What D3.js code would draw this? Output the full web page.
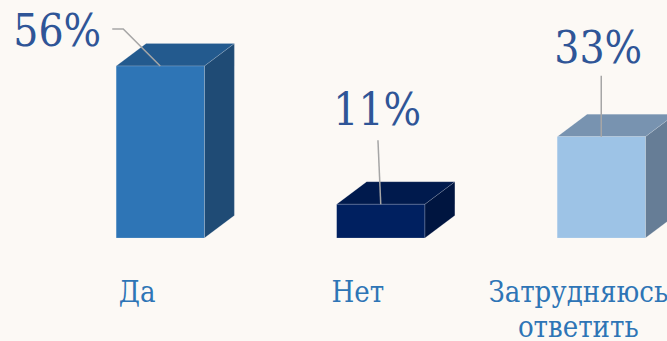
<!DOCTYPE html>
<html>
<head>
<meta charset="utf-8">
<script src="https://cdn.jsdelivr.net/npm/d3@7"></script>
<style>
  html, body { margin: 0; padding: 0; background: #fcf9f5; }
  svg { display: block; }
  text { font-family: "DejaVu Serif Condensed", "DejaVu Serif", serif; font-stretch: condensed; }
</style>
</head>
<body>
<svg id="chart" width="667" height="341"></svg>
<script>
// Survey answers and their shares, in percent
const categories = ["Да", "Нет", "Затрудняюсь ответить"];
const values = [56, 11, 33];
const valueLabels = ["56%", "11%", "33%"];

// Face colours for each box: front, top, side
const frontColors = ["#2e75b6", "#002060", "#9dc3e6"];
const topColors   = ["#235a8e", "#001a4d", "#7893b0"];
const sideColors  = ["#1f4b75", "#001540", "#667d96"];

const W = 667, H = 341;
const svg = d3.select("#chart");
svg.append("rect").attr("width", W).attr("height", H).attr("fill", "#fcf9f5");

const x = d3.scaleBand()
  .domain(categories)
  .range([50, 711.5])
  .paddingInner(0.6)
  .paddingOuter(0.3);

const y = d3.scaleLinear().domain([0, 60]).range([238, 53.7]);

// oblique depth of the boxes
const depthX = 30, depthY = -22.5;

const g = svg.append("g");

const bars = g.selectAll("g.bar")
  .data(categories.map((c, i) => ({ c, v: values[i], i })))
  .join("g").attr("class", "bar");

// side face
bars.append("path")
  .attr("d", d => {
    const x1 = x(d.c) + x.bandwidth(), y0 = y(0), y1 = y(d.v);
    return `M${x1},${y1}L${x1 + depthX},${y1 + depthY}L${x1 + depthX},${y0 + depthY}L${x1},${y0}Z`;
  })
  .attr("fill", d => sideColors[d.i])
  .attr("stroke", "rgba(255,255,255,0.25)").attr("stroke-width", 0.6);

// top face
bars.append("path")
  .attr("d", d => {
    const x0 = x(d.c), x1 = x0 + x.bandwidth(), y1 = y(d.v);
    return `M${x0},${y1}L${x0 + depthX},${y1 + depthY}L${x1 + depthX},${y1 + depthY}L${x1},${y1}Z`;
  })
  .attr("fill", d => topColors[d.i])
  .attr("stroke", "rgba(255,255,255,0.25)").attr("stroke-width", 0.6);

// front face
bars.append("rect")
  .attr("x", d => x(d.c))
  .attr("y", d => y(d.v))
  .attr("width", x.bandwidth())
  .attr("height", d => y(0) - y(d.v))
  .attr("fill", d => frontColors[d.i])
  .attr("stroke", "rgba(255,255,255,0.3)").attr("stroke-width", 0.6);

// value labels placed relative to the top of each box, with leader lines
const labelShift = [[-103, -19.5], [-3.5, -79], [-3, -74]];
const leaderStart = [[-48, -37, -37, -37], [-2.8, -64], [0, -61]];

bars.append("path")
  .attr("fill", "none")
  .attr("stroke", "#a6a6a6")
  .attr("stroke-width", 1.5)
  .attr("d", d => {
    const cx = x(d.c) + x.bandwidth() / 2, ty = y(d.v);
    const s = leaderStart[d.i];
    let p = `M${cx + s[0]},${ty + s[1]}`;
    if (s.length > 2) p += `L${cx + s[2]},${ty + s[3]}`;
    return p + `L${cx},${ty}`;
  });

bars.append("text")
  .attr("x", d => x(d.c) + x.bandwidth() / 2 + labelShift[d.i][0])
  .attr("y", d => y(d.v) + labelShift[d.i][1])
  .attr("text-anchor", "middle")
  .attr("font-size", 44)
  .attr("fill", "#2f5597")
  .text(d => valueLabels[d.i]);

// category labels under the boxes
const axisLabels = g.selectAll("text.cat")
  .data(categories)
  .join("text")
  .attr("class", "cat")
  .attr("x", d => x(d) + x.bandwidth() / 2 - 23)
  .attr("y", 302)
  .attr("text-anchor", "middle")
  .attr("font-size", 29)
  .attr("fill", "#2e75b6");

axisLabels.each(function (d) {
  const words = d.split(" ");
  const t = d3.select(this);
  words.forEach((w, k) => {
    t.append("tspan")
      .attr("x", t.attr("x"))
      .attr("dy", k === 0 ? 0 : 35)
      .text(w);
  });
});
</script>
</body>
</html>
